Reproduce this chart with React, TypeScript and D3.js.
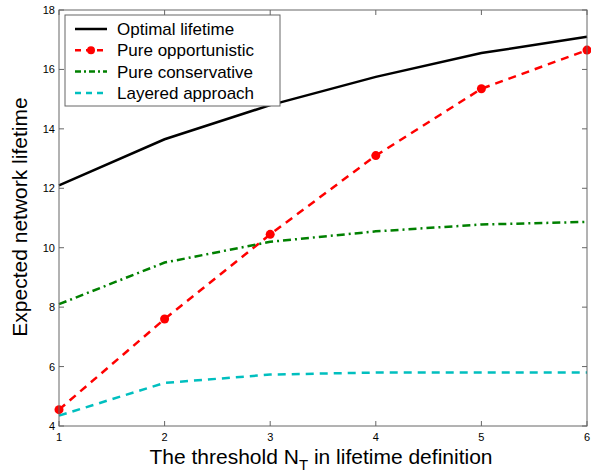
import React from "react";
import * as d3 from "d3";

const thresholds = [1, 2, 3, 4, 5, 6];
const optimalLifetime = [12.1, 13.65, 14.8, 15.75, 16.55, 17.1];
const pureOpportunistic = [4.55, 7.6, 10.45, 13.1, 15.35, 16.65];
const pureConservative = [8.1, 9.5, 10.2, 10.55, 10.78, 10.87];
const layeredApproach = [4.35, 5.45, 5.73, 5.8, 5.8, 5.8];
const yTicks = [4, 6, 8, 10, 12, 14, 16, 18];

const series = [
  { name: "Optimal lifetime", values: optimalLifetime, color: "#000000", dash: "", markers: false },
  { name: "Pure opportunistic", values: pureOpportunistic, color: "#ff0000", dash: "8,6", markers: true },
  { name: "Pure conservative", values: pureConservative, color: "#008000", dash: "8,4,2,4", markers: false },
  { name: "Layered approach", values: layeredApproach, color: "#00bfbf", dash: "8,6", markers: false },
];

const W = 591;
const H = 474;
const margin = { top: 10, right: 4, bottom: 48, left: 59 };
const font = "Liberation Sans, Arial, Helvetica, sans-serif";

export default function App() {
  const x = d3.scaleLinear().domain([1, 6]).range([margin.left, W - margin.right]);
  const y = d3.scaleLinear().domain([4, 18]).range([H - margin.bottom, margin.top]);
  const line = d3
    .line<number>()
    .x((_, i) => x(thresholds[i]))
    .y((d) => y(d));

  const x0 = margin.left;
  const x1 = W - margin.right;
  const y0 = H - margin.bottom;
  const y1 = margin.top;
  const tickLen = 5;
  const axisColor = "#666";

  return (
    <svg
      width={W}
      height={H}
      style={{ position: "absolute", left: 0, top: 0, background: "#fff" }}
      fontFamily={font}
    >
      {/* data lines */}
      {series.map((s) => (
        <g key={s.name}>
          <path
            d={line(s.values) || ""}
            fill="none"
            stroke={s.color}
            strokeWidth={2.5}
            strokeDasharray={s.dash}
          />
          {s.markers &&
            s.values.map((v, i) => (
              <circle key={i} cx={x(thresholds[i])} cy={y(v)} r={4.5} fill={s.color} />
            ))}
        </g>
      ))}

      {/* box */}
      <rect x={x0} y={y1} width={x1 - x0} height={y0 - y1} fill="none" stroke={axisColor} strokeWidth={1} />

      {/* x ticks */}
      {thresholds.map((t) => (
        <g key={"xt" + t}>
          <line x1={x(t)} x2={x(t)} y1={y0} y2={y0 - tickLen} stroke={axisColor} />
          <line x1={x(t)} x2={x(t)} y1={y1} y2={y1 + tickLen} stroke={axisColor} />
          <text x={x(t)} y={y0 + 15} fontSize={11} textAnchor="middle" fill="#000">
            {t}
          </text>
        </g>
      ))}

      {/* y ticks */}
      {yTicks.map((t) => (
        <g key={"yt" + t}>
          <line x1={x0} x2={x0 + tickLen} y1={y(t)} y2={y(t)} stroke={axisColor} />
          <line x1={x1} x2={x1 - tickLen} y1={y(t)} y2={y(t)} stroke={axisColor} />
          <text x={x0 - 4} y={y(t) + 4} fontSize={11} textAnchor="end" fill="#000">
            {t}
          </text>
        </g>
      ))}

      {/* axis titles */}
      <text x={321} y={464} fontSize={21} textAnchor="middle" fill="#000">
        The threshold N
        <tspan fontSize={15} dy={6}>T</tspan>
        <tspan dy={-6}> in lifetime definition</tspan>
      </text>
      <text
        transform={`translate(27,217) rotate(-90)`}
        fontSize={21}
        textAnchor="middle"
        fill="#000"
      >
        Expected network lifetime
      </text>

      {/* legend */}
      <g>
        <rect x={65} y={15} width={215} height={91} fill="#fff" stroke={axisColor} strokeWidth={1} />
        {series.map((s, i) => {
          const ly = 29 + i * 21.3;
          return (
            <g key={"lg" + s.name}>
              <line
                x1={75}
                x2={107}
                y1={ly}
                y2={ly}
                stroke={s.color}
                strokeWidth={2.5}
                strokeDasharray={s.dash ? (s.dash === "8,6" ? "6,5" : "6,3,2,3") : ""}
              />
              {s.markers && <circle cx={91} cy={ly} r={4} fill={s.color} />}
              <text x={117} y={ly + 6} fontSize={17} fill="#000">
                {s.name}
              </text>
            </g>
          );
        })}
      </g>
    </svg>
  );
}
